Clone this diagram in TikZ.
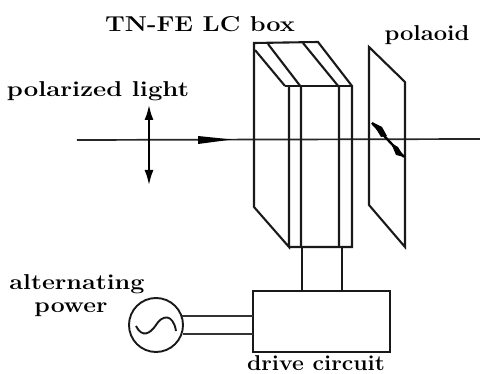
\documentclass[tikz,border=0pt]{standalone}
\usetikzlibrary{arrows.meta}
\newcommand{\fitw}[2]{\resizebox{#1pt}{\height}{#2}}
\tikzset{
  ln/.style={line width=2.1pt,black!90},
  thinln/.style={line width=1.8pt,black!80},
  lab/.style={font=\fontsize{21.5}{24}\selectfont\bfseries,inner sep=0pt,anchor=center,black}
}
\begin{document}
\begin{tikzpicture}[x=1pt,y=-1pt]
\useasboundingbox (0,0) rectangle (480,374);
% named corner points
\coordinate (bTL) at (254,43);
\coordinate (bTR) at (318,42);
\coordinate (fTL) at (289,87);
\coordinate (fTR) at (352,86);
\coordinate (bBL) at (254,207);
\coordinate (fBL) at (289,247);
\coordinate (fBR) at (352,247);
\coordinate (s1T) at (268,44);
\coordinate (s1F) at (301,87);
\coordinate (s2T) at (303,43);
\coordinate (s2F) at (339,87);
\coordinate (s1B) at (301,247);
\coordinate (s2B) at (339,247);
\coordinate (innerA) at (255,50);
\coordinate (innerB) at (285,86);
% axis
\coordinate (axL) at (77,140);
\coordinate (axR) at (480,139);
\draw[line width=1.7pt,black!85] (axL) -- (axR);
% box
\draw[ln,line join=miter] (fTL) -- (fBL) -- (bBL) -- (bTL) -- (bTR) -- (fTR) -- (fBR) -- (fBL);
\draw[ln] (innerB) -- (fTR);
\draw[ln] (innerA) -- (innerB);
\draw[ln] (s1T) -- (s1F) -- (s1B);
\draw[ln] (s2T) -- (s2F) -- (s2B);
% polaroid
\coordinate (p1) at (369,47);
\coordinate (p2) at (405,82);
\coordinate (p3) at (405,247);
\coordinate (p4) at (369,205);
\draw[ln] (p1) -- (p2) -- (p3) -- (p4) -- cycle;
% polarization arrow on polaroid
\coordinate (w1) at (372,123);
\coordinate (w2) at (404,157);
\draw[line width=2.4pt] (w1) -- (w2);
\fill (372,122) -- (382,127) -- (387,136) -- (381,137) -- cycle;
\fill (391,143) -- (398,147) -- (404,157) -- (396,155) -- cycle;
% light arrow
\fill (198,136) -- (232,139.5) -- (198,144) -- cycle;
% double arrow
\coordinate (da1) at (149,105);
\coordinate (da2) at (149,185);
\draw[line width=1.9pt,{Latex[length=15pt,width=9pt]}-{Latex[length=15pt,width=9pt]}] (da1) -- (da2);
% drive circuit
\node[draw,line width=2.1pt,black!90,minimum width=137pt,minimum height=61pt,inner sep=0pt] (drive) at (321.5,321.5) {};
\coordinate (d1) at (302,291);
\coordinate (d2) at (342,291);
\coordinate (e1) at (302,247);
\coordinate (e2) at (342,247);
\draw[ln] (e1) -- (d1);
\draw[ln] (e2) -- (d2);
% source
\node[draw,circle,line width=1.9pt,black!90,minimum size=54pt,inner sep=0pt] (src) at (156,325) {};
\draw[line width=1.9pt,black!90] (136,326) .. controls (142,338) and (150,334) .. (156,325) .. controls (162,315) and (173,313) .. (176,331);
\coordinate (g1) at (253,316);
\coordinate (g2) at (253,334);
\coordinate (h1) at (182,316);
\coordinate (h2) at (183,334);
\draw[thinln] (h1) -- (g1);
\draw[thinln] (h2) -- (g2);
% labels
\node[lab] (t1) at (200,24) {\fitw{190}{TN-FE LC box}};
\node[lab] (t2) at (427,35) {\fitw{85}{polaoid}};
\node[lab] (t3) at (98,91) {\fitw{182}{polarized light}};
\node[lab] (t4) at (77,284) {\fitw{135}{alternating}};
\node[lab] (t5) at (71,310) {\fitw{73}{power}};
\node[lab] (t6) at (316,363.5) {\fitw{138}{drive circuit}};
\end{tikzpicture}
\end{document}
